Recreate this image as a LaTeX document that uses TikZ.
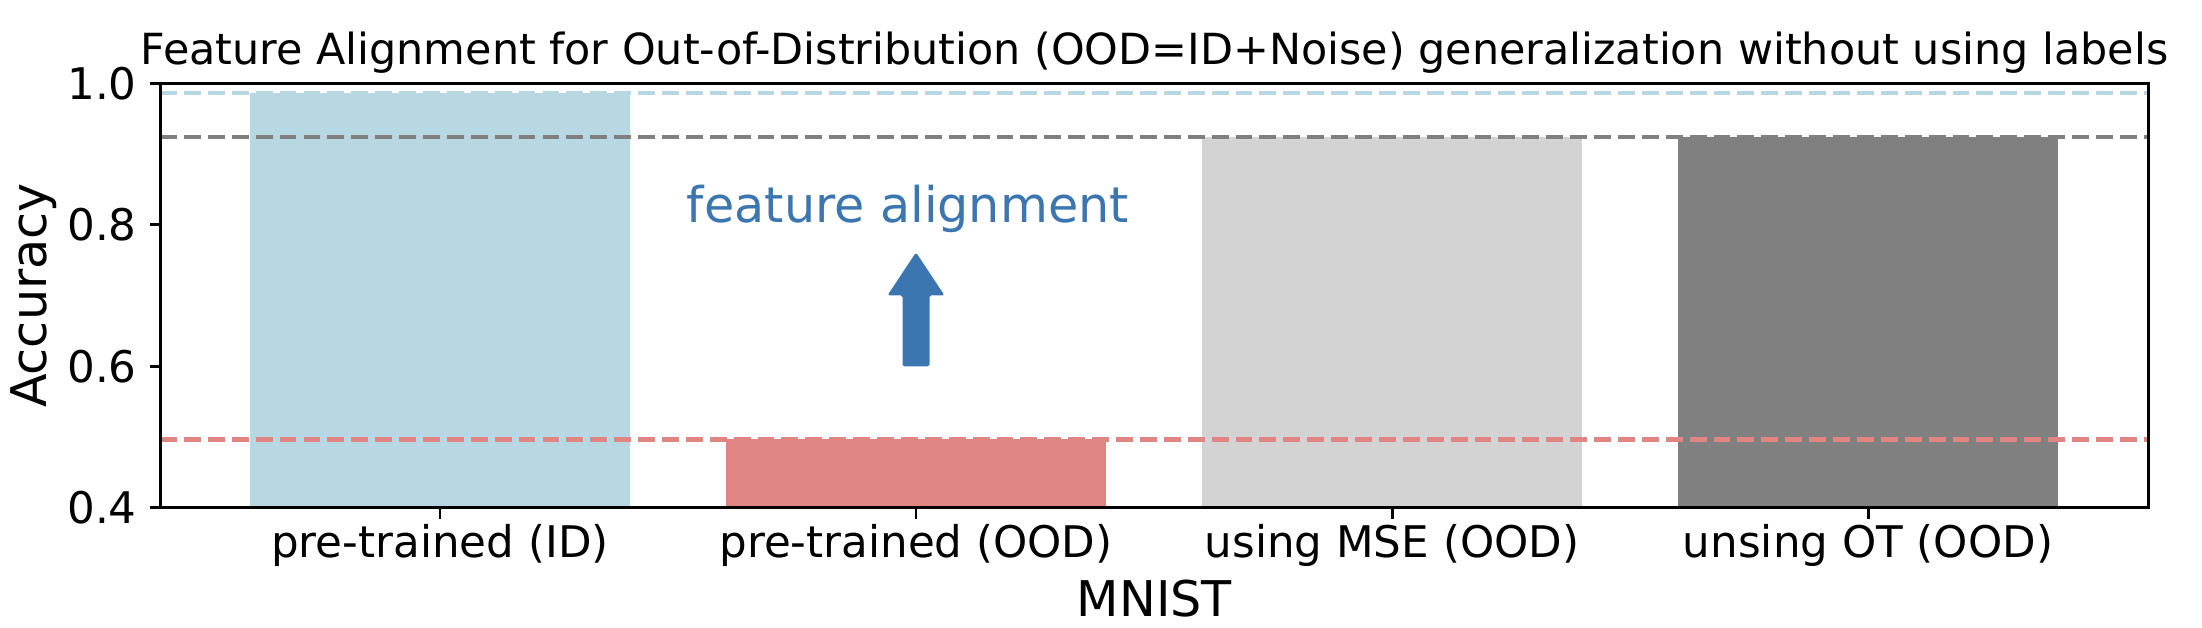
\documentclass[tikz,border=0pt]{standalone}
\usepackage{fontspec}
\setmainfont{DejaVu Sans}
\usepackage{xcolor}
\usetikzlibrary{calc,positioning}
\definecolor{idblue}{HTML}{B7D7E3}
\definecolor{oodred}{HTML}{E08581}
\definecolor{mselight}{HTML}{D3D3D3}
\definecolor{otgray}{HTML}{808080}
\definecolor{arrblue}{HTML}{3C76B0}
\tikzset{%
	refline/.style   = {line width=1.25pt, dash pattern=on 4.8pt off 2pt},
	ticklabel/.style = {inner sep=0pt, font=\fontsize{12.4}{15}\selectfont},
	axislabel/.style = {inner sep=0pt, font=\fontsize{14}{17}\selectfont},
	titlelabel/.style= {inner sep=0pt, font=\fontsize{12.2}{14}\selectfont},
}

\begin{document}
\begin{tikzpicture}[x=4.76cm,y=7.08cm]
	\useasboundingbox (-0.92437,0.23051) rectangle (3.70168,1.11751);
	% bars
	\fill[idblue]   (-0.4,0.4) rectangle (0.4,0.986);
	\fill[oodred]   (0.6,0.4) rectangle (1.4,0.497);
	\fill[mselight] (1.6,0.4) rectangle (2.4,0.924);
	\fill[otgray]   (2.6,0.4) rectangle (3.4,0.924);
	% reference lines
	\draw[refline,idblue]   (-0.588,0.986) -- (3.590,0.986);
	\draw[refline,otgray]   (-0.588,0.924) -- (3.590,0.924);
	\draw[refline,oodred]   (-0.588,0.497) -- (3.590,0.497);
	% arrow
	\coordinate (arrbase) at (1,0.6);
	\fill[arrblue,rounded corners=0.5pt] ($(arrbase)+(-0.135cm,0)$) -- ($(arrbase)+(0.135cm,0)$) -- ($(arrbase)+(0.135cm,0.71cm)$)
		-- ($(arrbase)+(0.285cm,0.71cm)$) -- ($(arrbase)+(0,1.14cm)$) -- ($(arrbase)+(-0.285cm,0.71cm)$) -- ($(arrbase)+(-0.135cm,0.71cm)$) -- cycle;
	\node[axislabel,text=arrblue,anchor=base] (align) at (0.983,0.8037) {feature alignment};
	% frame
	\draw[line width=0.85pt] (-0.588,0.4) rectangle (3.590,1.0);
	\foreach \y [count=\k] in {0.4,0.6,0.8,1.0}
		\draw[line width=0.85pt] (-0.588,\y) -- ++(-0.1cm,0) node[ticklabel,anchor=east,xshift=-0.12cm] (ytick\k) {\y};
	\foreach \lab [count=\k] in {pre-trained (ID),pre-trained (OOD),using MSE (OOD),unsing OT (OOD)}
		\draw[line width=0.85pt] (\k-1,0.4) -- ++(0,-0.11cm) node[ticklabel,anchor=base,yshift=-0.39cm] (xtick\k) {\lab};
	\node[axislabel,anchor=base] (xlab) at ($(1.501,0.4)+(0,-1.09cm)$) {MNIST};
	\node[axislabel,rotate=90] (ylab) at ($(-0.588,0.7)+(-1.26cm,0)$) {Accuracy};
	\node[titlelabel,anchor=base] (title) at ($(1.501,1.0)+(0,0.19cm)$) {Feature Alignment for Out-of-Distribution (OOD=ID+Noise) generalization without using labels};
\end{tikzpicture}
\end{document}
